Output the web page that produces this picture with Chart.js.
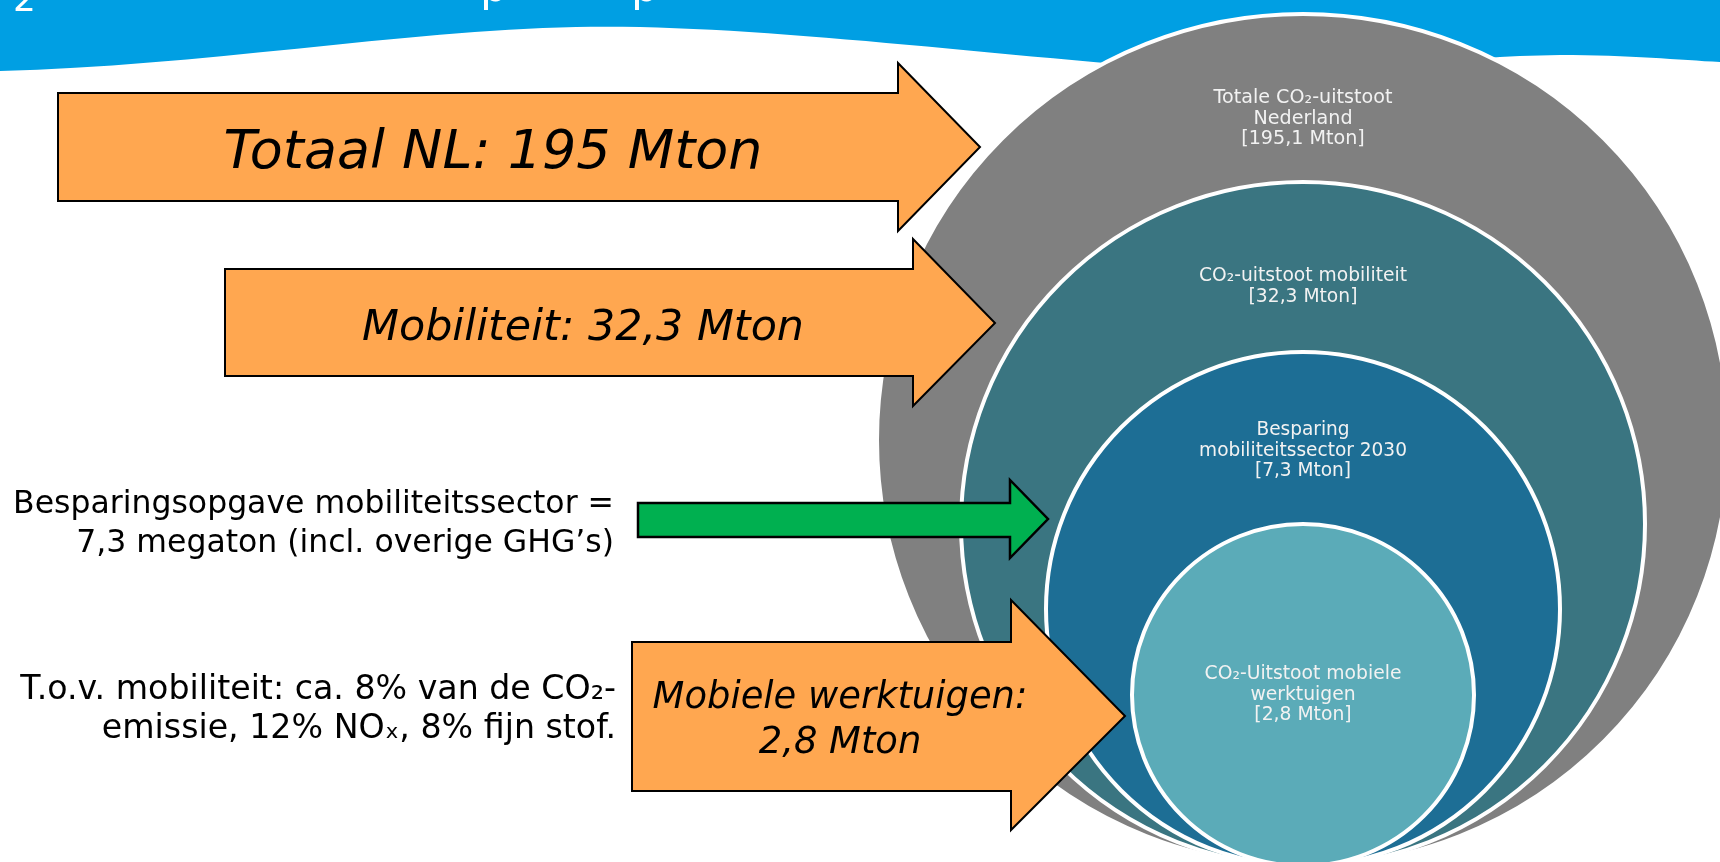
<!DOCTYPE html>
<html><head><meta charset="utf-8">
<script src="https://cdn.jsdelivr.net/npm/chart.js@4.4.1/dist/chart.umd.min.js"></script>
<style>html,body{margin:0;padding:0;background:#fff;overflow:hidden}canvas{display:block}</style>
</head><body>
<canvas id="c" width="1720" height="862"></canvas>
<script>
// ---------------- data ----------------
const circleCategories = ['Totale CO₂-uitstoot Nederland', 'CO₂-uitstoot mobiliteit', 'Besparing mobiliteitssector 2030', 'CO₂-Uitstoot mobiele werktuigen'];
const circleLabelLines = [['Totale CO₂-uitstoot', 'Nederland'], ['CO₂-uitstoot mobiliteit'], ['Besparing', 'mobiliteitssector 2030'], ['CO₂-Uitstoot mobiele', 'werktuigen']];
const emissionsMton = [195.1, 32.3, 7.3, 2.8];
const arrowLabels = [['Totaal NL: 195 Mton'], ['Mobiliteit: 32,3 Mton'], ['Mobiele werktuigen:', '2,8 Mton']];
const noteTexts = [['Besparingsopgave mobiliteitssector =', '7,3 megaton (incl. overige GHG’s)'], ['T.o.v. mobiliteit: ca. 8% van de CO₂-', 'emissie, 12% NOₓ, 8% fijn stof.']];

// ---------------- layout (positions / sizes / styles) ----------------
const FAMILY = '"DejaVu Sans", Verdana, sans-serif';
const circleLayout = {
  cx: 1303, bottom: 866, radii: [426, 342, 257, 171],
  colors: ['#808080', '#3A7581', '#1D6E95', '#5BABB8'],
  labelBase: [103, 281, 435, 679], labelWidth: [179, 208, 208, 197], lineH: 20.5
};
const arrowLayout = [
  { l: 58, t: 93, b: 201, hx: 898, ht: 63, hb: 231, tx: 980, ty: 147, fill: '#FFA750', lw: 2,
    text: { cx: 493, base: [168], width: 539, size: 52 } },
  { l: 225, t: 269, b: 376, hx: 913, ht: 239, hb: 406, tx: 995, ty: 323, fill: '#FFA750', lw: 2,
    text: { cx: 583, base: [340], width: 442, size: 44 } },
  { l: 632, t: 642, b: 791, hx: 1011, ht: 600, hb: 830, tx: 1125, ty: 716, fill: '#FFA750', lw: 2,
    text: { cx: 840, base: [708, 753], width: 375, size: 34 } }
];
const greenArrow = { l: 638, t: 503, b: 537, hx: 1010, ht: 480, hb: 558, tx: 1048, ty: 519, fill: '#00B050', lw: 2.5 };
const noteLayout = [
  { right: 614, base: [513, 552], width: 601, size: 30 },
  { right: 616, base: [699, 738], width: 596, size: 30 }
];

function fmt(v) { return String(v).replace('.', ','); }

const bubblePoints = emissionsMton.map((v, i) => ({
  x: circleLayout.cx,
  y: circleLayout.bottom - circleLayout.radii[i],
  r: circleLayout.radii[i],
  v: v
}));

function fitSize(ctx, text, style, size, target) {
  ctx.font = `${style} ${size}px ${FAMILY}`;
  const w = ctx.measureText(text).width;
  if (!target) return size;
  let s = size * target / w;
  return Math.max(size * 0.8, Math.min(size * 1.25, s));
}

const decor = {
  id: 'decor',
  beforeDatasetsDraw(chart) {
    const ctx = chart.ctx, X = v => chart.scales.x.getPixelForValue(v), Y = v => chart.scales.y.getPixelForValue(v);
    ctx.save();
    // blue banner with wave
    ctx.fillStyle = '#009FE3';
    ctx.beginPath();
    ctx.moveTo(X(0), Y(0));
    ctx.lineTo(X(0), Y(71));
    ctx.bezierCurveTo(X(200), Y(66), X(400), Y(31), X(576), Y(27));
    ctx.bezierCurveTo(X(760), Y(23), X(1000), Y(58), X(1250), Y(74));
    ctx.bezierCurveTo(X(1360), Y(74), X(1450), Y(56), X(1560), Y(55));
    ctx.bezierCurveTo(X(1630), Y(55), X(1680), Y(60), X(1720), Y(62));
    ctx.lineTo(X(1720), Y(0));
    ctx.closePath();
    ctx.fill();
    // partially visible title glyphs
    ctx.fillStyle = '#FFFFFF';
    ctx.textAlign = 'left';
    ctx.textBaseline = 'alphabetic';
    ctx.font = `36px ${FAMILY}`;
    ctx.fillText('2', X(13), Y(11));
    ctx.font = `44px ${FAMILY}`;
    ctx.fillText('p', X(480), Y(1));
    ctx.fillText('p', X(631), Y(1));
    ctx.restore();
  },
  afterDatasetsDraw(chart) {
    const ctx = chart.ctx, X = v => chart.scales.x.getPixelForValue(v), Y = v => chart.scales.y.getPixelForValue(v);
    ctx.save();
    // circle labels
    ctx.fillStyle = '#F2F2F2';
    ctx.textAlign = 'center';
    ctx.textBaseline = 'alphabetic';
    circleLabelLines.forEach((lines, i) => {
      const all = lines.concat(['[' + fmt(emissionsMton[i]) + ' Mton]']);
      const widest = lines.reduce((a, b) => (a.length >= b.length ? a : b));
      const s = fitSize(ctx, widest, '', 18, circleLayout.labelWidth[i]);
      ctx.font = `${s}px ${FAMILY}`;
      all.forEach((t, k) => ctx.fillText(t, X(circleLayout.cx), Y(circleLayout.labelBase[i] + k * circleLayout.lineH)));
    });
    // arrows
    const drawArrow = (a) => {
      ctx.beginPath();
      ctx.moveTo(X(a.l), Y(a.t));
      ctx.lineTo(X(a.hx), Y(a.t));
      ctx.lineTo(X(a.hx), Y(a.ht));
      ctx.lineTo(X(a.tx), Y(a.ty));
      ctx.lineTo(X(a.hx), Y(a.hb));
      ctx.lineTo(X(a.hx), Y(a.b));
      ctx.lineTo(X(a.l), Y(a.b));
      ctx.closePath();
      ctx.fillStyle = a.fill;
      ctx.fill();
      ctx.lineWidth = a.lw;
      ctx.strokeStyle = '#000000';
      ctx.lineJoin = 'miter';
      ctx.stroke();
    };
    arrowLayout.forEach((a, i) => {
      drawArrow(a);
      const lines = arrowLabels[i];
      const s = fitSize(ctx, lines[0], 'italic', a.text.size, a.text.width);
      ctx.font = `italic ${s}px ${FAMILY}`;
      ctx.fillStyle = '#000000';
      ctx.textAlign = 'center';
      lines.forEach((t, k) => ctx.fillText(t, X(a.text.cx), Y(a.text.base[k])));
    });
    drawArrow(greenArrow);
    // notes on the left
    noteTexts.forEach((lines, i) => {
      const n = noteLayout[i];
      const s = fitSize(ctx, lines[0], '', n.size, n.width);
      ctx.font = `${s}px ${FAMILY}`;
      ctx.fillStyle = '#000000';
      ctx.textAlign = 'right';
      lines.forEach((t, k) => ctx.fillText(t, X(n.right), Y(n.base[k])));
    });
    ctx.restore();
  }
};

new Chart(document.getElementById('c'), {
  type: 'bubble',
  data: {
    labels: circleCategories,
    datasets: [{
      label: 'CO₂-uitstoot [Mton]',
      data: bubblePoints,
      backgroundColor: circleLayout.colors,
      borderColor: '#FFFFFF',
      borderWidth: 4,
      hoverRadius: 0,
      clip: false
    }]
  },
  options: {
    responsive: false,
    devicePixelRatio: 1,
    animation: false,
    events: [],
    layout: { padding: 0, autoPadding: false },
    plugins: { legend: { display: false }, tooltip: { enabled: false }, title: { display: false } },
    scales: {
      x: { type: 'linear', min: 0, max: 1720, display: false },
      y: { type: 'linear', min: 0, max: 862, reverse: true, display: false }
    }
  },
  plugins: [decor]
});
</script>
</body></html>
